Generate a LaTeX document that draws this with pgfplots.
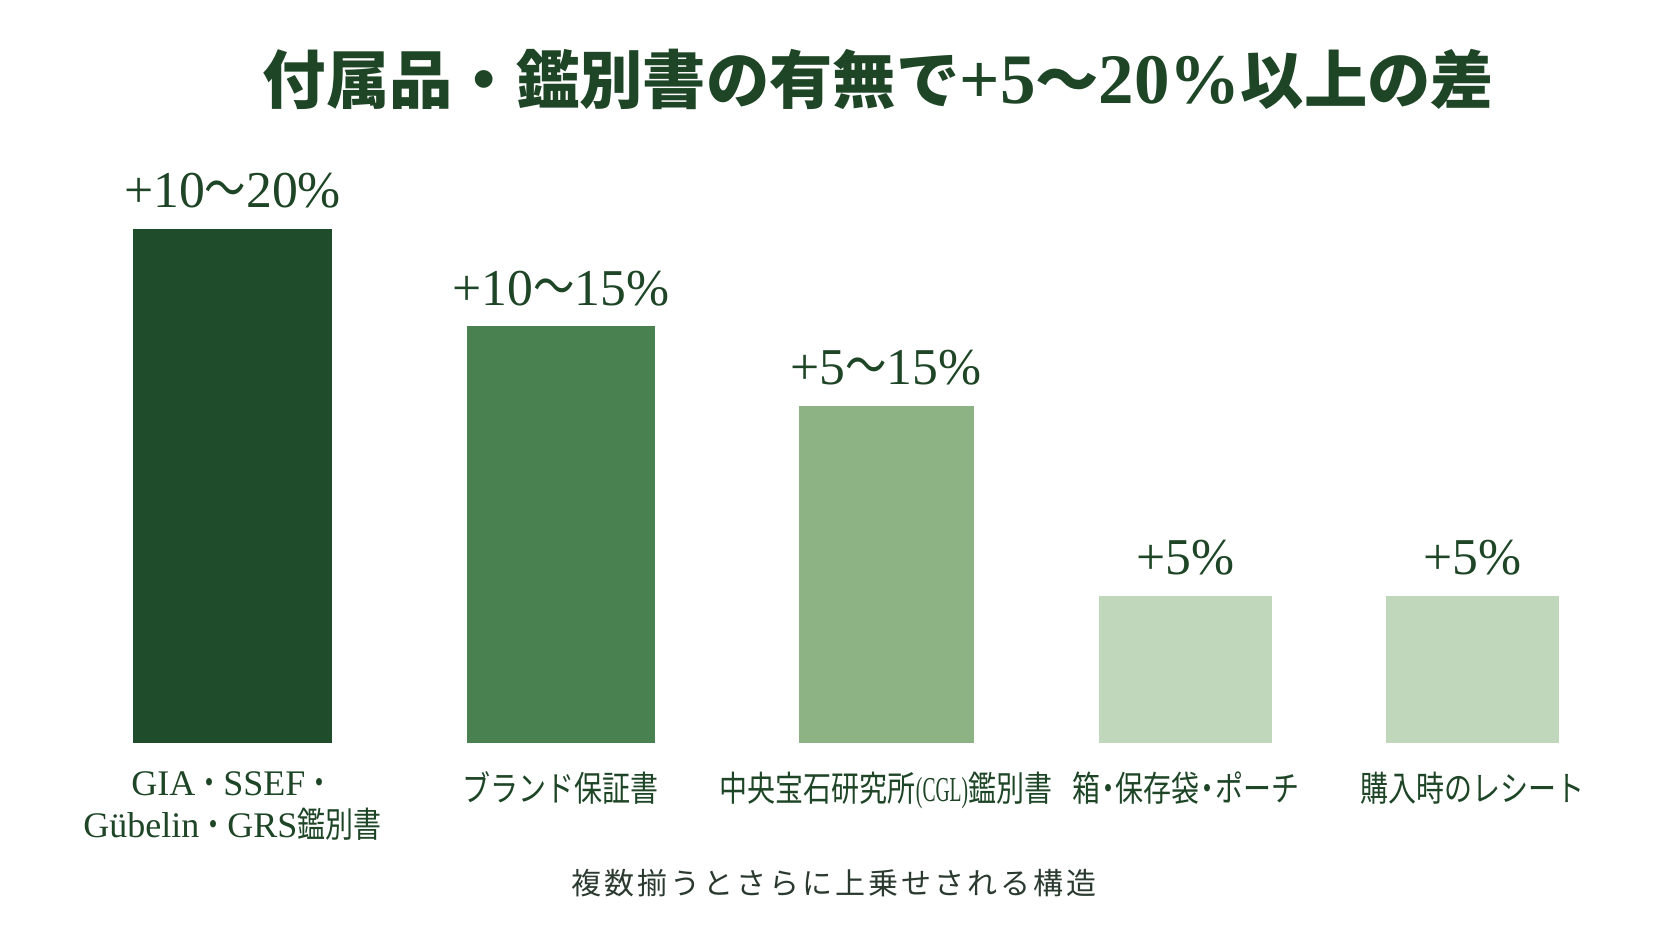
\documentclass[border=0pt]{standalone}
\usepackage{pgfplots}
\pgfplotsset{compat=1.18}
\usepackage{fontspec}
\setmainfont{Liberation Serif}
\newfontfamily\jp{Noto Sans CJK JP}
\newfontfamily\jpc{Noto Sans CJK JP}[FakeStretch=0.8]
\newfontfamily\serc{Liberation Serif}[FakeStretch=0.56]
\newfontfamily\jpnote{Noto Sans CJK JP}[LetterSpace=10]

\definecolor{barA}{HTML}{1F4D2B}
\definecolor{barB}{HTML}{4A8150}
\definecolor{barC}{HTML}{8DB283}
\definecolor{barD}{HTML}{C1D7BC}
\definecolor{txt}{HTML}{1E4526}
\definecolor{notec}{HTML}{2B3A2F}

\newcommand\lat[1]{{\rmfamily\fontsize{10.8}{12.6}\selectfont #1}}
\newcommand\cnd[1]{{\serc #1}}
\newcommand\dt{{\kern-0.18em・\kern-0.18em}}
\newcommand\wave{{\jpc ～}}
\newcommand\vA{+10\wave 20\%}
\newcommand\vB{+10\wave 15\%}
\newcommand\vC{+5\wave 15\%}
\newcommand\vD{+5\%}

\begin{document}
\begin{tikzpicture}
\begin{axis}[
    x=0.3pt, y=7.71pt,
    xmin=0, xmax=1672, ymin=-7.696, ymax=28.918,
    axis x line=middle, axis y line=none,
    x axis line style={draw=none},
    ytick=\empty,
    xtick={232.5,560.9,886.1,1185.7,1472.6},
    xticklabels={
        {\lat{GIA}・\lat{SSEF}・\\\lat{Gübelin}・\lat{GRS}鑑別書},
        ブランド保証書,
        中央宝石研究所\cnd{(CGL)}鑑別書,
        箱\dt 保存袋\dt ポーチ,
        購入時のレシート},
    major tick length=0pt,
    xticklabel style={font=\jpc\fontsize{10.5}{12.6}\selectfont, text=txt,
        align=center, anchor=north, yshift=-5pt},
    clip=false,
    nodes near coords, point meta=explicit symbolic,
    every node near coord/.append style={font=\fontsize{15.5}{18}\selectfont,
        text=txt, anchor=base, yshift=6.4pt},
]
\path (rel axis cs:0,0) rectangle (rel axis cs:1,1);

\addplot[ybar, bar width=59.5pt, bar shift=0pt, fill=barA, draw=none]
    coordinates {(232.5,20) [\vA]};
\addplot[ybar, bar width=56.3pt, bar shift=0pt, fill=barB, draw=none]
    coordinates {(560.9,16.22) [\vB]};
\addplot[ybar, bar width=52.5pt, bar shift=0pt, fill=barC, draw=none]
    coordinates {(886.1,13.11) [\vC]};
\addplot[ybar, bar width=51.8pt, bar shift=0pt, fill=barD, draw=none]
    coordinates {(1185.7,5.72) [\vD]};
\addplot[ybar, bar width=51.8pt, bar shift=0pt, fill=barD, draw=none]
    coordinates {(1472.6,5.72) [\vD]};

% title and note
\node[text=txt, font=\fontsize{19}{22}\selectfont\bfseries]
    at (axis cs:878.6,25.81)
    {{\jp\bfseries 付属品・鑑別書の有無で}{\fontsize{21.3}{22}\selectfont +5}{\jp\bfseries ～}{\fontsize{21.3}{22}\selectfont 20\%}{\jp\bfseries 以上の差}};
\node[text=notec, font=\jpnote\fontsize{9}{11}\selectfont]
    at (axis cs:834,-5.44) {複数揃うとさらに上乗せされる構造};
\end{axis}
\end{tikzpicture}
\end{document}
